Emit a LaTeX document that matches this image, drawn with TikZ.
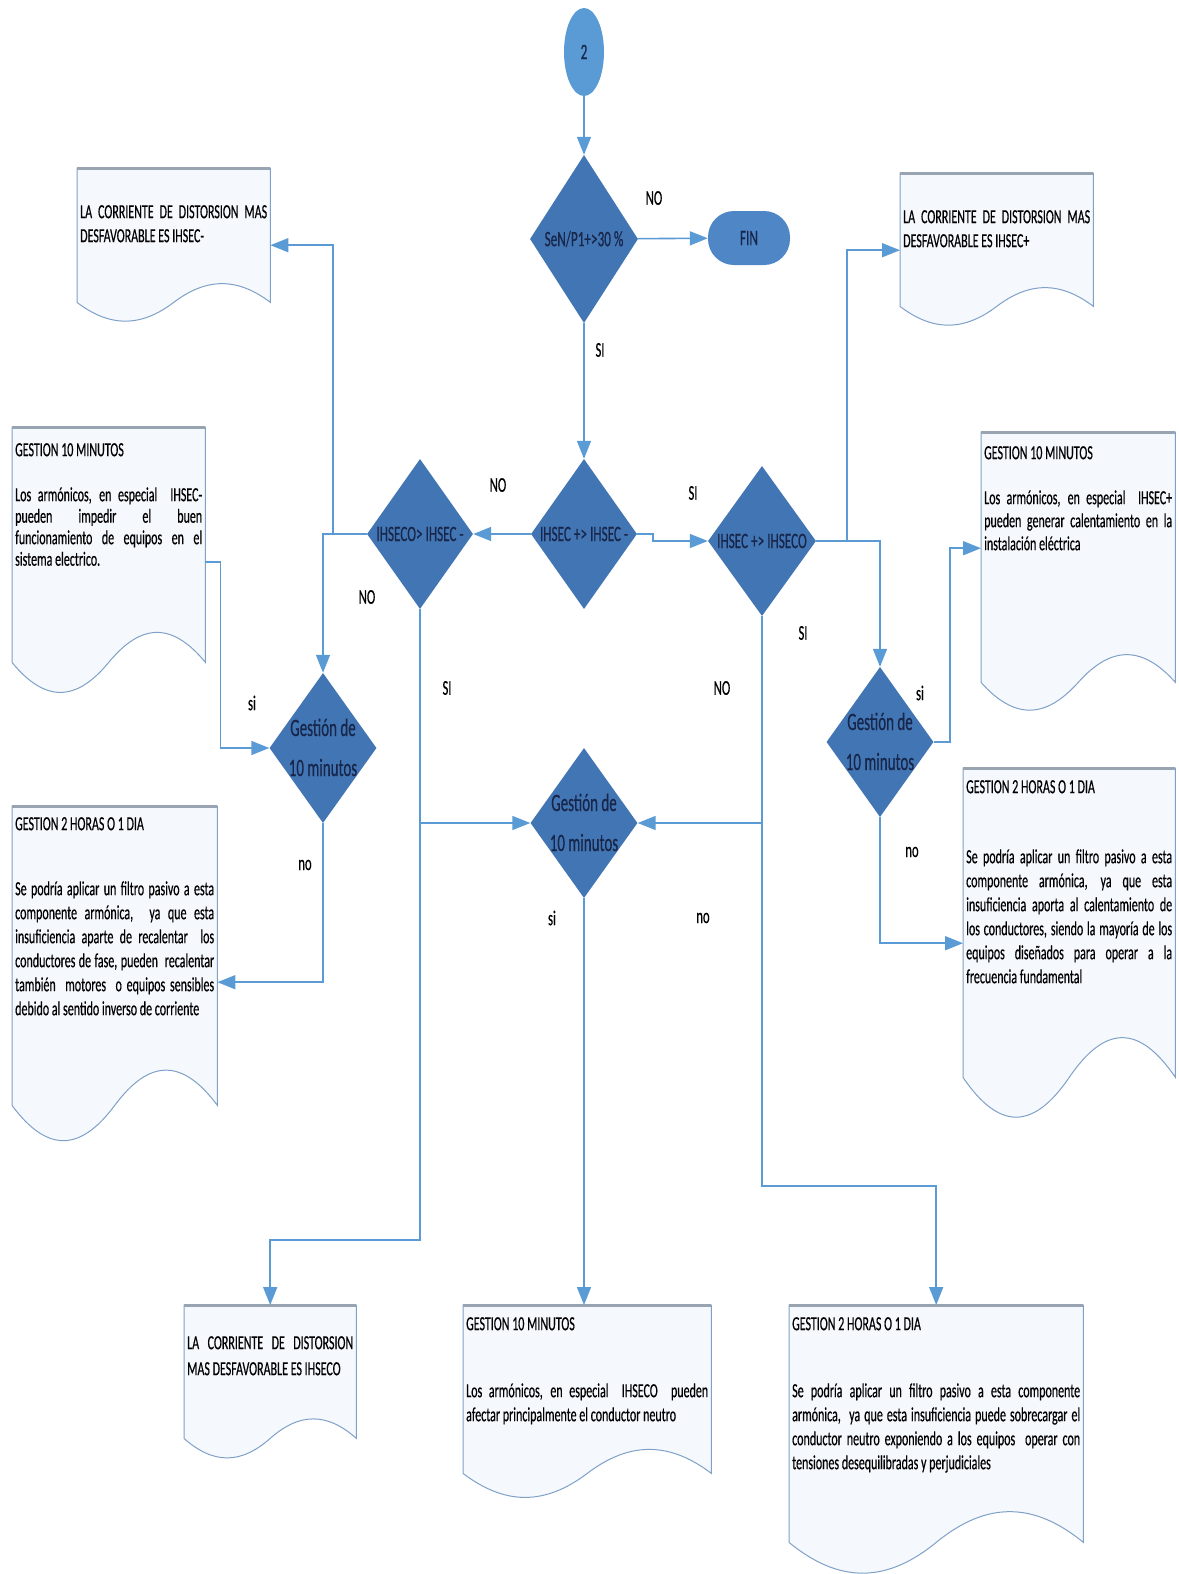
\documentclass[tikz,border=0pt]{standalone}
\usepackage{fontspec}
\setmainfont{Carlito}[FakeStretch=0.6, FakeBold=0.4]
\usepackage{tikz}
\usetikzlibrary{shapes.geometric, arrows.meta, calc, positioning}

\definecolor{decfill}{HTML}{4275B3}
\definecolor{circfill}{HTML}{5B9BD5}
\definecolor{finfill}{HTML}{4F86C6}
\definecolor{connline}{HTML}{5B9BD5}
\definecolor{docedge}{HTML}{7FA1C9}
\definecolor{doctopc}{HTML}{98A4B2}
\definecolor{docbg}{HTML}{F5F8FC}
\definecolor{dectext}{HTML}{17264A}

\tikzset{
  decision/.style = {diamond, fill=decfill, draw=none, inner sep=0pt, text=dectext, font=\fontsize{22}{26}\selectfont},
  gestion/.style  = {decision, minimum width=107pt, minimum height=150pt, font=\fontsize{25}{40}\selectfont},
  terminal/.style = {rectangle, rounded corners=26pt, fill=finfill, minimum width=82pt, minimum height=54pt, text=dectext, font=\fontsize{22}{26}\selectfont},
  conn/.style     = {draw=connline, line width=1.6pt, -{Triangle[width=14pt,length=18pt]}},
  connplain/.style= {draw=connline, line width=1.6pt},
  docbox/.style   = {rectangle, draw=none, inner sep=0pt, anchor=north west},
  doctext/.style  = {anchor=north west, inner sep=0pt, align=justify, font=\fontsize{20}{24}\selectfont,
                     execute at begin node={\tolerance=10000\hbadness=10000\hyphenpenalty=10000\parindent=0pt}},
  lbl/.style      = {font=\fontsize{21}{24}\selectfont, inner sep=0pt},
}

% document shape: straight top and sides, wavy bottom
\newcommand{\docoutline}[2]{%
  \filldraw[fill=docbg, draw=docedge, line width=1pt]
    (#1.north west) -- (#1.north east) -- (#1.south east)
    .. controls ($(#1.south east)!0.17!(#1.south west)+(0,-#2)$) and ($(#1.south east)!0.33!(#1.south west)+(0,-#2)$) .. ($(#1.south east)!0.5!(#1.south west)$)
    .. controls ($(#1.south east)!0.67!(#1.south west)+(0,#2)$) and ($(#1.south east)!0.83!(#1.south west)+(0,#2)$) .. (#1.south west) -- cycle;
  \draw[doctopc, line width=3pt] (#1.north west) -- (#1.north east);}
\newcommand{\gesttext}{\makebox[0pt]{\begin{tabular}{@{}c@{}}Gestión de\\10 minutos\end{tabular}}}

\begin{document}
\begin{tikzpicture}[x=1pt, y=-1pt]
  \fill[white] (0,0) rectangle (1178,1574);
  \useasboundingbox (0,0) rectangle (1178,1574);

  % main column
  \node[ellipse, fill=circfill, minimum width=40pt, minimum height=88pt, inner sep=0pt, text=dectext, font=\fontsize{22}{26}\selectfont] (c2) at (584,52) {2};
  \node[decision, minimum width=108pt, minimum height=168pt] (dsen) at (584,239) {\makebox[0pt]{SeN/P1+>30 \%}};
  \node[terminal] (fin) at (749,238) {FIN};
  \node[decision, minimum width=106pt, minimum height=150pt] (dcmp) at (584,534) {\makebox[0pt]{IHSEC +> IHSEC -}};
  \node[decision, minimum width=106pt, minimum height=150pt] (dneg) at (420,534) {\makebox[0pt]{IHSECO> IHSEC -}};
  \node[decision, minimum width=108pt, minimum height=150pt] (dpos) at (762,541) {\makebox[0pt]{IHSEC +> IHSECO}};

  \node[gestion] (g1) at (323,748) {\gesttext};
  \node[gestion] (g2) at (880,742) {\gesttext};
  \node[gestion] (g3) at (584,823) {\gesttext};

  % documents
  \node[docbox, minimum width=193pt, minimum height=134pt] (b1) at (77,168) {};
  \docoutline{b1}{25}
  \node[doctext, text width=187pt] (t1) at ([shift={(3,37)}]b1.north west)
    {LA CORRIENTE DE DISTORSION MAS\linebreak DESFAVORABLE ES IHSEC-};

  \node[docbox, minimum width=193pt, minimum height=133pt] (b4) at (900,173) {};
  \docoutline{b4}{25}
  \node[doctext, text width=187pt] (t4) at ([shift={(3,37)}]b4.north west)
    {LA CORRIENTE DE DISTORSION MAS\linebreak DESFAVORABLE ES IHSEC+};

  \node[docbox, minimum width=193pt, minimum height=235pt] (b2) at (12,427) {};
  \docoutline{b2}{40}
  \node[doctext, text width=187pt, font=\fontsize{20}{21.5}\selectfont] (t2) at ([shift={(3,16)}]b2.north west)
    {GESTION 10 MINUTOS\par\vspace{23.5pt}Los armónicos, en especial \ IHSEC-\linebreak pueden impedir el buen\linebreak funcionamiento de equipos en el\linebreak sistema electrico.};

  \node[docbox, minimum width=194pt, minimum height=250pt] (b5) at (981,432) {};
  \docoutline{b5}{37}
  \node[doctext, text width=188pt, font=\fontsize{20}{23}\selectfont] (t5) at ([shift={(3,14)}]b5.north west)
    {GESTION 10 MINUTOS\par\vspace{22pt}Los armónicos, en especial \ IHSEC+\linebreak pueden generar calentamiento en la\linebreak instalación eléctrica};

  \node[docbox, minimum width=205pt, minimum height=299pt] (b3) at (12,806) {};
  \docoutline{b3}{47}
  \node[doctext, text width=199pt] (t3) at ([shift={(3,11)}]b3.north west)
    {GESTION 2 HORAS O 1 DIA\par\vspace{41pt}Se podría aplicar un filtro pasivo a esta\linebreak componente armónica, \ ya que esta\linebreak insuficiencia aparte de recalentar \ los\linebreak conductores de fase, pueden \ recalentar\linebreak también \ motores \ o equipos sensibles\linebreak debido al sentido inverso de corriente};

  \node[docbox, minimum width=212pt, minimum height=309pt] (b6) at (963,768) {};
  \docoutline{b6}{53}
  \node[doctext, text width=206pt] (t6) at ([shift={(3,12)}]b6.north west)
    {GESTION 2 HORAS O 1 DIA\par\vspace{46pt}Se podría aplicar un filtro pasivo a esta\linebreak componente armónica, ya que esta\linebreak insuficiencia aporta al calentamiento de\linebreak los conductores, siendo la mayoría de los\linebreak equipos diseñados para operar a la\linebreak frecuencia fundamental};

  \node[docbox, minimum width=172pt, minimum height=133pt] (b7) at (184,1305) {};
  \docoutline{b7}{26}
  \node[doctext, text width=166pt, font=\fontsize{20}{26}\selectfont] (t7) at ([shift={(3,31)}]b7.north west)
    {LA CORRIENTE DE DISTORSION\linebreak MAS DESFAVORABLE ES IHSECO};

  \node[docbox, minimum width=248pt, minimum height=168pt] (b8) at (463,1305) {};
  \docoutline{b8}{32}
  \node[doctext, text width=242pt] (t8) at ([shift={(3,12)}]b8.north west)
    {GESTION 10 MINUTOS\par\vspace{43pt}Los armónicos, en especial \ IHSECO \ pueden\linebreak afectar principalmente el conductor neutro};

  \node[docbox, minimum width=294pt, minimum height=237pt] (b9) at (789,1305) {};
  \docoutline{b9}{41}
  \node[doctext, text width=288pt] (t9) at ([shift={(3,12)}]b9.north west)
    {GESTION 2 HORAS O 1 DIA\par\vspace{43pt}Se podría aplicar un filtro pasivo a esta componente\linebreak armónica, \ ya que esta insuficiencia puede sobrecargar el\linebreak conductor neutro exponiendo a los equipos \ operar con\linebreak tensiones desequilibradas y perjudiciales};

  % junctions
  \coordinate (kstep) at (653,534);
  \coordinate (jl) at (333,534);
  \coordinate (jr) at (847,541);
  \coordinate (jb7) at (420,1240);
  \coordinate (jb9) at (762,1186);

  % connectors
  \draw[conn] (c2) -- (dsen);
  \draw[conn] (dsen) -- (fin);
  \draw[conn] (dsen) -- (dcmp);
  \draw[conn] (dcmp) -- (dneg);
  \draw[conn] (dcmp.east) -- (kstep) |- (dpos.west);
  \draw[conn] (dneg.west) -| (g1.north);
  \draw[conn] (jl) |- ([yshift=-10pt]b1.east);
  \draw[conn] ([yshift=-17.5pt]b2.east) -- ++(15,0) |- (g1.west);
  \draw[conn] (g1.south) |- ([yshift=-26.5pt]b3.east);
  \draw[conn] (dneg.south) -- (jb7) -| (b7.north);
  \draw[conn] (dneg.south |- g3.west) -- (g3.west);
  \draw[conn] (dpos.south) -- (jb9) -| (b9.north);
  \draw[conn] (dpos.south |- g3.east) -- (g3.east);
  \draw[conn] (g3.south) -- (g3.south |- b8.north);
  \draw[conn] (dpos.east) -| (g2.north);
  \draw[conn] (jr) |- ([yshift=-10.5pt]b4.west);
  \draw[conn] (g2.east) -- ++(16,0) |- ([yshift=9pt]b5.west);
  \draw[conn] (g2.south) |- ([yshift=-20.5pt]b6.west);

  % branch labels
  \node[lbl] (lno1) at (654,198) {NO};
  \node[lbl] (lsi1) at (600,350) {SI};
  \node[lbl] (lno2) at (498,485) {NO};
  \node[lbl] (lsi2) at (693,493) {SI};
  \node[lbl] (lno3) at (367,597) {NO};
  \node[lbl] (lsi3) at (447,688) {SI};
  \node[lbl] (lno4) at (722,688) {NO};
  \node[lbl] (lsi4) at (803,633) {SI};
  \node[lbl] (lsi5) at (252,703) {si};
  \node[lbl] (lno5) at (305,865) {no};
  \node[lbl] (lsi6) at (920,693) {si};
  \node[lbl] (lno6) at (912,852) {no};
  \node[lbl] (lsi7) at (552,918) {si};
  \node[lbl] (lno7) at (703,918) {no};
\end{tikzpicture}
\end{document}
